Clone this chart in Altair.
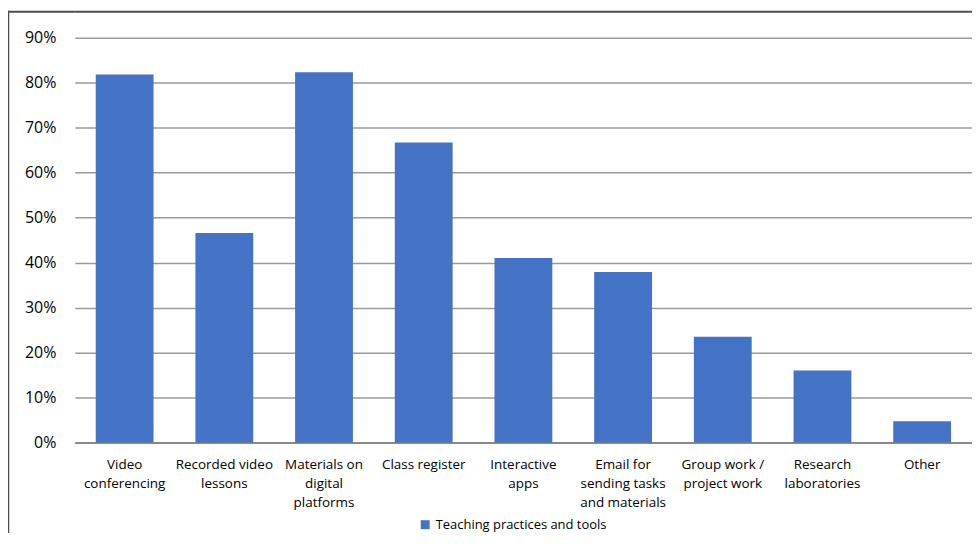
import altair as alt
import pandas as pd

categories = [
    "Video\nconferencing",
    "Recorded video\nlessons",
    "Materials on\ndigital\nplatforms",
    "Class register",
    "Interactive\napps",
    "Email for\nsending tasks\nand materials",
    "Group work /\nproject work",
    "Research\nlaboratories",
    "Other",
]
values = [0.818, 0.466, 0.823, 0.667, 0.410, 0.379, 0.235, 0.160, 0.047]
series_name = "Teaching practices and tools"
y_ticks = [0, 0.1, 0.2, 0.3, 0.4, 0.5, 0.6, 0.7, 0.8, 0.9]

df = pd.DataFrame({"category": categories, "value": values, "series": series_name})

W, H = 900, 406
FONT = "Open Sans"

bars = alt.Chart(df).mark_bar(color="#4472C4", size=58).encode(
    x=alt.X("category:N", sort=categories, title=None,
            scale=alt.Scale(paddingInner=0.42, paddingOuter=0.21),
            axis=alt.Axis(labelAngle=0, labelExpr="split(datum.label, '\\n')",
                          labelFontSize=13.5, labelLineHeight=19, labelPadding=15,
                          labelColor="#000000", labelFont=FONT,
                          ticks=False, domainColor="#898989", domainWidth=2,
                          labelLimit=200)),
    y=alt.Y("value:Q", title=None,
            scale=alt.Scale(domain=[0, 0.9], nice=False),
            axis=alt.Axis(values=y_ticks, format=".0%", labelFontSize=16,
                          labelColor="#000000", labelFont=FONT, labelPadding=19,
                          ticks=False, domain=False, gridColor="#9a9a9a",
                          gridWidth=1.5)),
    color=alt.Color("series:N", scale=alt.Scale(range=["#4472C4"]),
                    legend=alt.Legend(title=None, orient="none", legendX=345, legendY=482,
                                      symbolType="square", symbolSize=81,
                                      symbolStrokeWidth=0, labelFontSize=13,
                                      labelLimit=400,
                                      labelFont=FONT, labelColor="#000000")),
)

frame_df = pd.DataFrame({"k": [0]})
left_edge = alt.Chart(frame_df).mark_rule(color="#4d4d4d", strokeWidth=1.5).encode(
    x=alt.value(-66.5), y=alt.value(-27), y2=alt.value(H + 200))
top_span = alt.Chart(frame_df).mark_rule(color="#4d4d4d", strokeWidth=2).encode(
    y=alt.value(-26))
top_left = alt.Chart(frame_df).mark_rule(color="#4d4d4d", strokeWidth=2).encode(
    y=alt.value(-26), x=alt.value(-67), x2=alt.value(0))

chart = alt.layer(bars, left_edge, top_span, top_left).properties(
    width=W, height=H,
    autosize=alt.AutoSizeParams(type="none"),
    padding={"left": 67, "top": 29, "right": 0, "bottom": 90},
).configure_view(stroke=None)

chart.save("out.html", embed_options={"renderer": "svg", "actions": False})
